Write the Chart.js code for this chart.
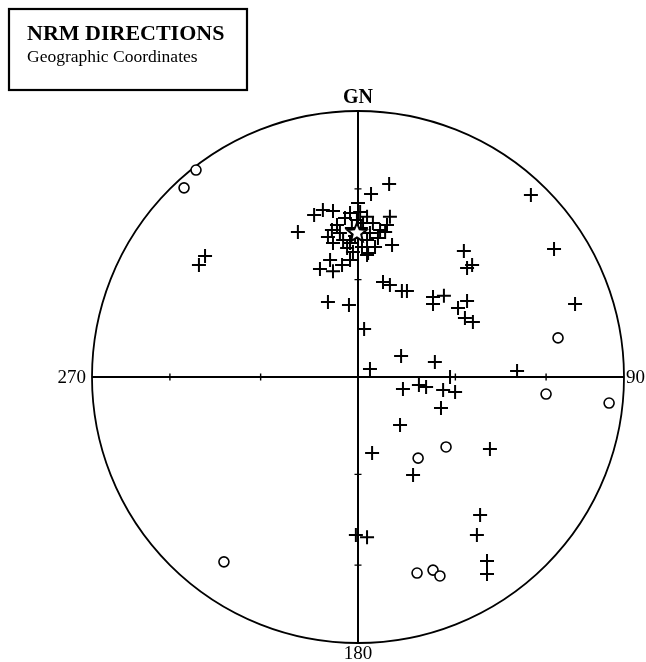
<!DOCTYPE html>
<html>
<head>
<meta charset="utf-8">
<script src="https://cdn.jsdelivr.net/npm/chart.js@4/dist/chart.umd.min.js"></script>
<style>
html,body{margin:0;padding:0;background:#fff;}
#wrap{position:relative;width:646px;height:662px;}
canvas{display:block;}
</style>
</head>
<body>
<div id="wrap"><canvas id="c" width="646" height="662"></canvas></div>
<script>
// Equal-area stereonet, coordinates: x = east, y = north (unit circle = horizontal)
const titleText = "NRM DIRECTIONS";
const subtitleText = "Geographic Coordinates";
const axisLabels = { north: "GN", east: "90", south: "180", west: "270" };
const tickInclinations = [30, 60];

// Lower-hemisphere directions (crosses)
const lowerX = [-0.575,-0.598,-0.226,0.117,0.049,-0.165,-0.132,-0.094,0.120,0.000,0.109,0.128,0.034,-0.105,-0.143,-0.094,-0.060,-0.030,0.075,-0.113,-0.098,-0.079,-0.049,-0.030,0.008,0.034,0.056,0.083,0.064,0.015,-0.030,-0.056,0.045,-0.068,-0.004,0.019,-0.023,0.034,-0.041,-0.094,-0.019,0.038,0.094,0.120,0.165,0.184,-0.113,-0.034,0.023,0.162,0.045,0.102,0.398,0.429,0.410,0.282,0.323,0.282,0.410,0.376,0.402,0.432,0.650,0.737,0.816,0.598,0.289,0.346,0.169,0.229,0.256,0.320,0.365,0.312,0.158,0.053,0.496,0.207,0.459,0.447,0.485,0.485,-0.008,0.034,-0.011,0.011];
const lowerY = [0.455,0.421,0.545,0.726,0.688,0.609,0.628,0.624,0.602,0.654,0.571,0.496,0.459,0.440,0.406,0.398,0.421,0.440,0.523,0.526,0.553,0.571,0.598,0.617,0.620,0.602,0.579,0.553,0.489,0.489,0.504,0.515,0.541,0.541,0.590,0.579,0.560,0.515,0.485,0.504,0.470,0.466,0.357,0.346,0.323,0.323,0.282,0.271,0.180,0.079,0.030,0.545,0.474,0.421,0.410,0.301,0.305,0.274,0.286,0.259,0.222,0.207,0.684,0.481,0.274,0.023,0.056,0.000,-0.045,-0.030,-0.038,-0.049,-0.056,-0.117,-0.180,-0.286,-0.271,-0.368,-0.519,-0.594,-0.692,-0.741,-0.594,-0.602,0.530,0.560];

// Upper-hemisphere directions (open circles)
const upperX = [-0.609,-0.654,0.752,0.707,0.944,0.331,0.226,-0.504,0.222,0.282,0.308];
const upperY = [0.778,0.711,0.147,-0.064,-0.098,-0.263,-0.305,-0.695,-0.737,-0.726,-0.748];

// Mean direction (star)
const meanX = [-0.004];
const meanY = [0.545];

const toPts = (xs, ys) => xs.map((x, i) => ({ x: x, y: ys[i] }));

function drawStar(g, cx, cy, ro) {
  const ri = ro * 0.45;
  g.beginPath();
  for (let i = 0; i < 10; i++) {
    const r = i % 2 === 0 ? ro : ri;
    const a = -Math.PI / 2 + i * Math.PI / 5;
    const px = cx + r * Math.cos(a), py = cy + r * Math.sin(a);
    if (i === 0) g.moveTo(px, py); else g.lineTo(px, py);
  }
  g.closePath();
  g.fillStyle = '#fff';
  g.fill();
  g.lineWidth = 2;
  g.strokeStyle = '#000';
  g.stroke();
}

const netPlugin = {
  id: 'net',
  beforeDatasetsDraw(chart) {
    const { ctx, scales } = chart;
    const sx = scales.x, sy = scales.y;
    const cx = sx.getPixelForValue(0), cy = sy.getPixelForValue(0);
    const R = sx.getPixelForValue(1) - cx;
    ctx.save();
    ctx.strokeStyle = '#000';
    ctx.lineWidth = 1.8;
    ctx.beginPath();
    ctx.arc(cx, cy, R, 0, Math.PI * 2);
    ctx.stroke();
    ctx.lineWidth = 2;
    ctx.beginPath();
    ctx.moveTo(cx - R, cy); ctx.lineTo(cx + R, cy);
    ctx.moveTo(cx, cy - R); ctx.lineTo(cx, cy + R);
    ctx.stroke();
    // inclination ticks (equal-area radius)
    ctx.lineWidth = 1.4;
    tickInclinations.forEach(inc => {
      const r = Math.SQRT2 * Math.sin((90 - inc) / 2 * Math.PI / 180);
      const d = sx.getPixelForValue(r) - cx;
      ctx.beginPath();
      [-1, 1].forEach(s => {
        ctx.moveTo(cx + s * d, cy - 3.5); ctx.lineTo(cx + s * d, cy + 3.5);
        ctx.moveTo(cx - 3.5, cy + s * d); ctx.lineTo(cx + 3.5, cy + s * d);
      });
      ctx.stroke();
    });
    // labels
    ctx.fillStyle = '#000';
    ctx.font = 'bold 20px "Liberation Serif"';
    ctx.textAlign = 'center';
    ctx.textBaseline = 'bottom';
    ctx.fillText(axisLabels.north, cx, cy - R - 3);
    ctx.font = '19px "Liberation Serif"';
    ctx.textBaseline = 'top';
    ctx.fillText(axisLabels.south, cx, cy + R + 2);
    ctx.textBaseline = 'middle';
    ctx.textAlign = 'right';
    ctx.fillText(axisLabels.west, cx - R - 6, cy + 1);
    ctx.textAlign = 'left';
    ctx.fillText(axisLabels.east, cx + R + 2, cy + 1);
    // title box
    ctx.lineWidth = 2.2;
    ctx.strokeRect(9, 9, 238, 81);
    ctx.textAlign = 'left';
    ctx.textBaseline = 'alphabetic';
    ctx.font = 'bold 22px "Liberation Serif"';
    ctx.fillText(titleText, 27, 40);
    ctx.font = '17.5px "Liberation Serif"';
    ctx.fillText(subtitleText, 27, 62);
    ctx.restore();
  },
  afterDatasetsDraw(chart) {
    const { ctx, scales } = chart;
    ctx.save();
    meanX.forEach((mx, i) => {
      drawStar(ctx, scales.x.getPixelForValue(mx), scales.y.getPixelForValue(meanY[i]) + 1, 10);
    });
    ctx.restore();
  }
};

new Chart(document.getElementById('c'), {
  type: 'scatter',
  data: {
    datasets: [
      {
        label: 'lower',
        data: toPts(lowerX, lowerY),
        pointStyle: 'cross',
        pointRadius: 7,
        pointHoverRadius: 7,
        borderColor: '#000',
        borderWidth: 2,
        clip: false
      },
      {
        label: 'upper',
        data: toPts(upperX, upperY),
        pointStyle: 'circle',
        pointRadius: 5,
        pointHoverRadius: 5,
        borderColor: '#000',
        backgroundColor: '#fff',
        borderWidth: 1.6,
        clip: false
      }
    ]
  },
  options: {
    responsive: false,
    maintainAspectRatio: false,
    animation: false,
    events: [],
    layout: { padding: { left: 92, right: 22, top: 111, bottom: 19 } },
    scales: {
      x: { type: 'linear', min: -1, max: 1, display: false },
      y: { type: 'linear', min: -1, max: 1, display: false }
    },
    plugins: { legend: { display: false }, tooltip: { enabled: false } }
  },
  plugins: [netPlugin]
});
</script>
</body>
</html>
